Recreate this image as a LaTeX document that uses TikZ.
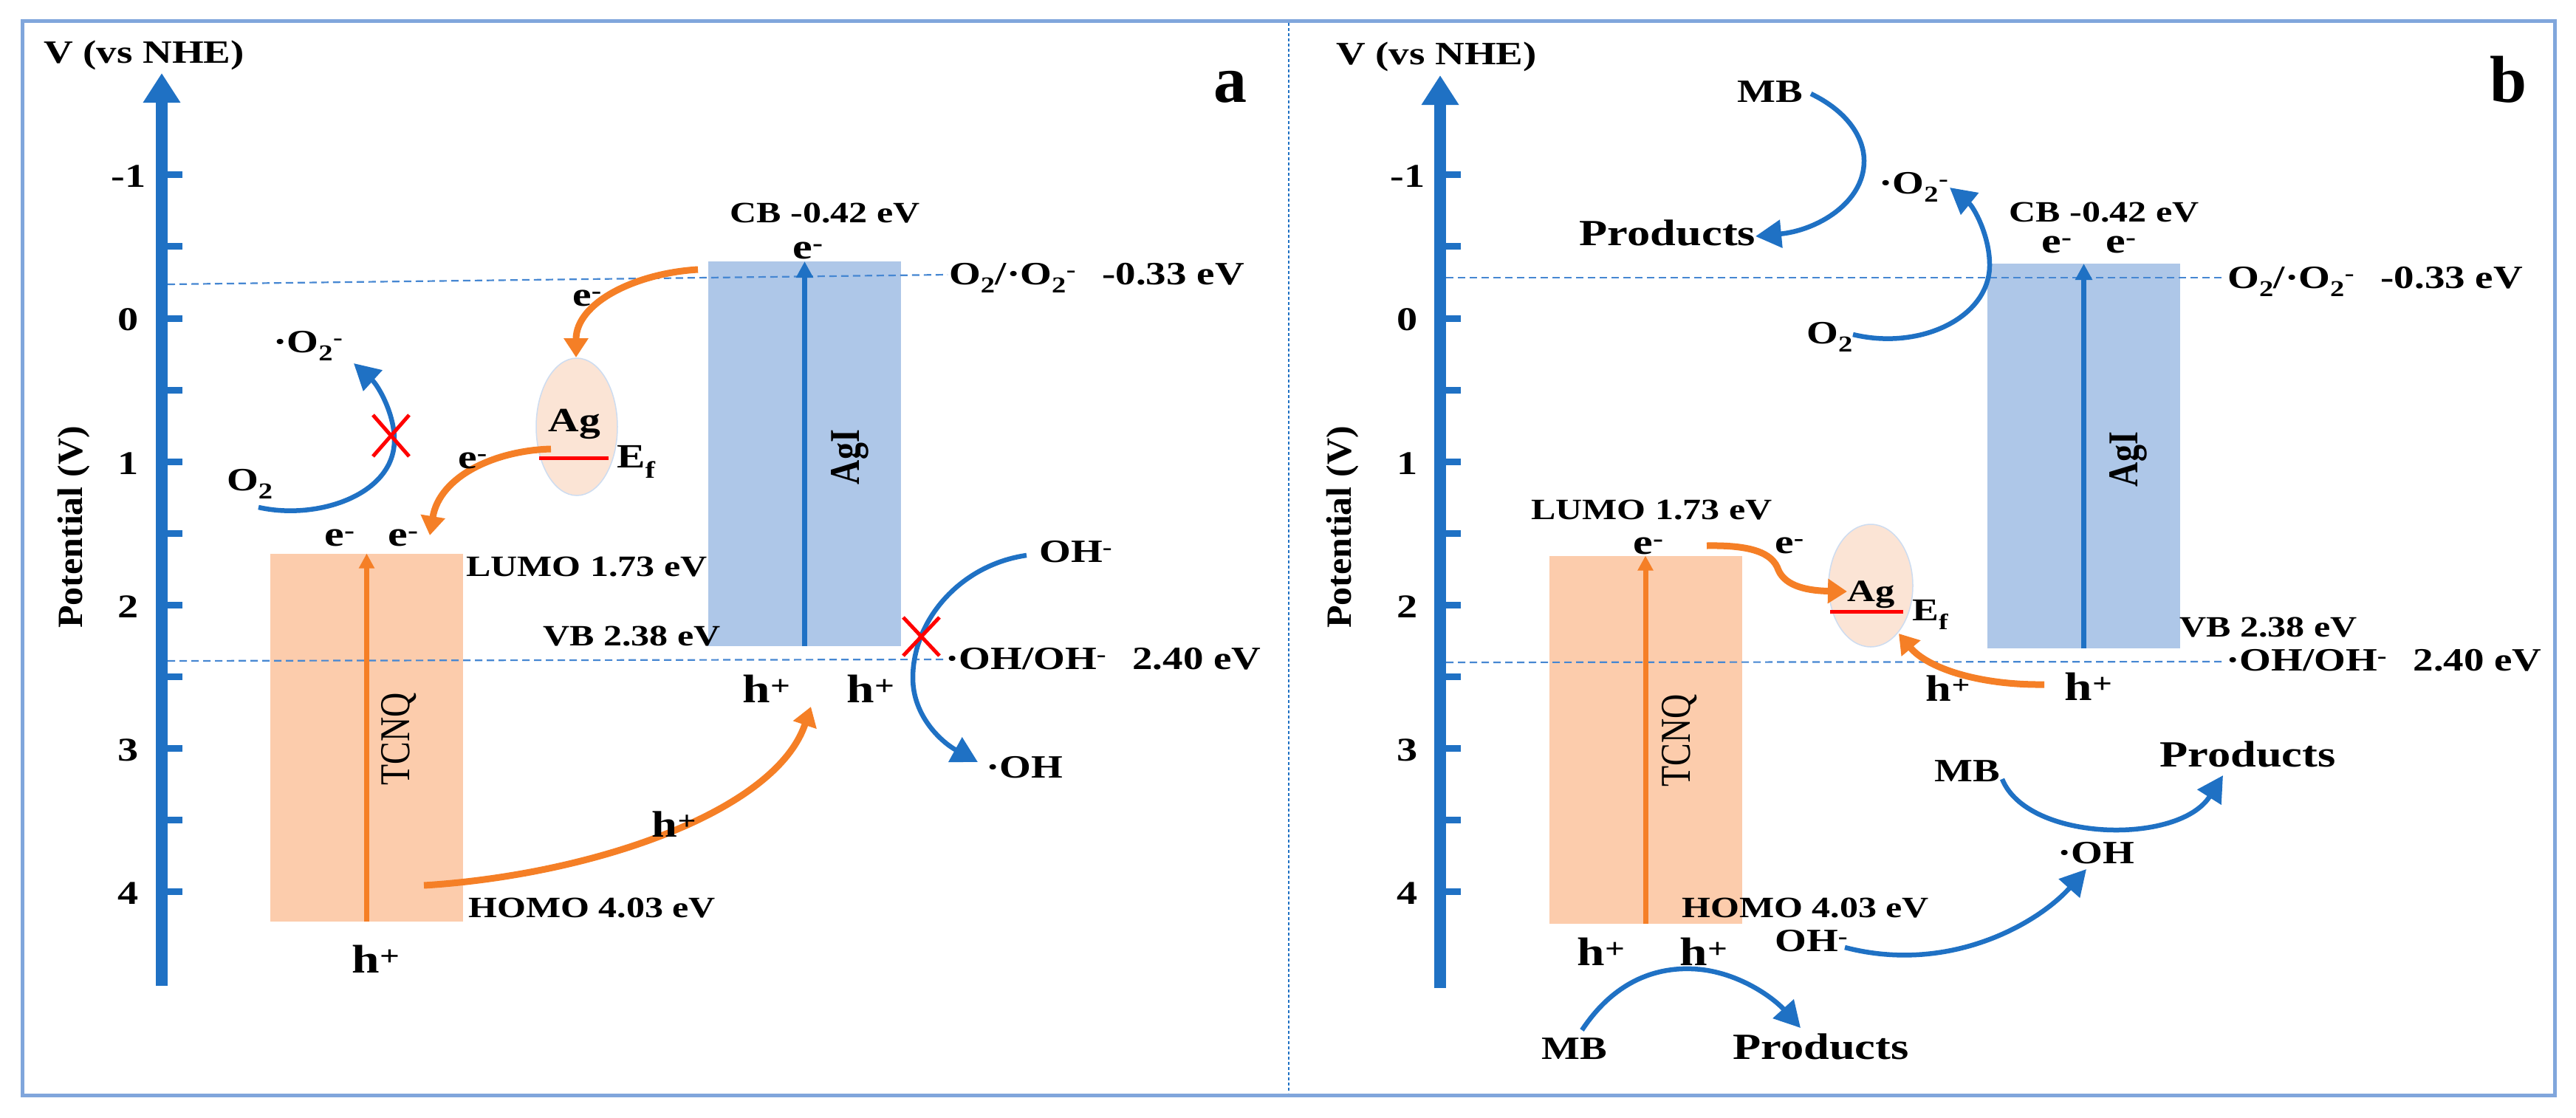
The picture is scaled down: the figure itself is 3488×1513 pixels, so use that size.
\documentclass[tikz,border=0pt]{standalone}
\usepackage{fontspec}
\usepackage{graphicx}
\setmainfont{Liberation Serif}[FakeStretch=1.25]
\newfontfamily\plainfont{Liberation Serif}
\usetikzlibrary{arrows.meta,shapes.geometric}
\definecolor{axblue}{RGB}{31,113,196}
\definecolor{dashblue}{RGB}{70,135,210}
\definecolor{orng}{RGB}{245,127,38}
\definecolor{tcnqfill}{RGB}{252,204,172}
\definecolor{agfill}{RGB}{251,228,213}
\definecolor{agedge}{RGB}{205,220,240}
\definecolor{agifill}{RGB}{174,199,232}
\definecolor{frameblue}{RGB}{128,166,220}
\tikzset{
  T/.style={inner sep=0pt, anchor=base west, font=\bfseries\fontsize{44}{50}\selectfont},
  Tc/.style={T, anchor=base},
  bandlbl/.style={inner sep=0pt, anchor=base west, font=\bfseries\fontsize{40}{46}\selectfont},
  elec/.style={inner sep=0pt, anchor=base, font=\bfseries\fontsize{48}{54}\selectfont},
  hole/.style={inner sep=0pt, anchor=base, font=\bfseries\fontsize{54}{60}\selectfont},
  prod/.style={inner sep=0pt, anchor=base west, font=\bfseries\fontsize{50}{56}\selectfont},
  ticklbl/.style={inner sep=0pt, anchor=center, font=\bfseries\fontsize{45}{50}\selectfont},
  potlbl/.style={inner sep=0pt, rotate=90, font=\bfseries\fontsize{40}{46}\selectfont},
  vlbl/.style={inner sep=0pt, rotate=90},
  panellbl/.style={inner sep=0pt, anchor=base, font=\plainfont\bfseries\fontsize{90}{96}\selectfont},
  axisline/.style={line width=16pt, axblue, -{Triangle[length=40pt,width=48pt]}},
  tickmark/.style={line width=9pt, axblue},
  lvl/.style={line width=2.2pt, dashblue, dash pattern=on 10pt off 6pt},
  tcnqbox/.style={fill=tcnqfill, draw=none, inner sep=0pt, outer sep=0pt, minimum width=261pt, minimum height=498pt},
  agibox/.style={fill=agifill, draw=none, inner sep=0pt, outer sep=0pt, minimum width=261pt, minimum height=521pt},
  agpart/.style={ellipse, fill=agfill, draw=agedge, line width=1.5pt, inner sep=0pt},
  tcnqarrow/.style={line width=7pt, orng, -{Triangle[length=20pt,width=20pt]}},
  agiarrow/.style={line width=7pt, axblue, -{Triangle[length=22pt,width=22pt]}},
  eflow/.style={line width=9pt, orng, -{Triangle[length=26pt,width=32pt]}},
  react/.style={line width=6.5pt, axblue, -{Triangle[length=35pt,width=37pt]}},
  block/.style={line width=5pt, red},
  efline/.style={line width=5pt, red}
}
\begin{document}
\begin{tikzpicture}[x=1pt,y=-1pt]
\useasboundingbox (0,0) rectangle (3488,1513);
\fill[white] (0,0) rectangle (3488,1513);
\draw[line width=5pt, frameblue] (30,28) rectangle (3459,1483);
\draw[line width=2pt, axblue, dash pattern=on 4pt off 3pt] (1745,31) -- (1745,1480);

% ---------------- panel a ----------------
\node[tcnqbox] (tcnqA) at (496.5,998.5) {};
\node[agibox] (agiA) at (1089.5,614.5) {};
\node[agpart, minimum width=110pt, minimum height=186pt] (agpA) at (781,578) {};
\draw[efline] (730,620) -- (824,620);

\coordinate (o2lA1) at (227,385); \coordinate (o2lA2) at (1283,372);
\coordinate (ohlA1) at (227,895); \coordinate (ohlA2) at (1280,893);
\draw[lvl] (o2lA1) -- (o2lA2);
\draw[lvl] (ohlA1) -- (ohlA2);

\draw[tcnqarrow] (tcnqA.south) -- (tcnqA.north);
\draw[agiarrow] (agiA.south) -- (agiA.north);

\coordinate (axA0) at (219,1335); \coordinate (axA1) at (219,99);
\draw[axisline] (axA0) -- (axA1);
\foreach \v in {-1,-0.5,0,0.5,1,1.5,2,2.5,3,3.5,4}{
  \draw[tickmark] (219,{431+194.2*\v}) -- (247,{431+194.2*\v});
}
\foreach \v in {-1,0,1,2,3,4}{
  \node[ticklbl] (tA\v) at (174,{433+194.2*\v}) {\v};
}
\node[Tc] (vnheA) at (195,85) {V (vs NHE)};
\node[potlbl] (potA) at (100,714) {\scalebox{1}[1.2]{Potential (V)}};

% electron / hole transfer arrows
\coordinate (a1s) at (945,365); \coordinate (a1t) at (780,484);
\draw[eflow] (a1s) .. controls (860,370) and (780,410) .. (a1t);
\coordinate (a2s) at (746,608); \coordinate (a2t) at (582,725);
\draw[eflow] (a2s) .. controls (670,610) and (595,645) .. (a2t);
\coordinate (a3s) at (574,1199); \coordinate (a3t) at (1098,957);
\draw[eflow] (a3s) .. controls (800,1185) and (1050,1100) .. (a3t);

% reactions
\coordinate (o2sA) at (350,687); \coordinate (o2tA) at (479,492);
\draw[react] (o2sA) .. controls (430,705) and (534,670) .. (534,596) .. controls (534,560) and (512,522) .. (o2tA);
\coordinate (ohsA) at (1390,752); \coordinate (ohtA) at (1324,1032);
\draw[react] (ohsA) .. controls (1300,765) and (1236,840) .. (1236,918) .. controls (1236,970) and (1275,1005) .. (ohtA);
\draw[block] (505,562) -- (554,618) (505,618) -- (554,562);
\draw[block] (1223,836) -- (1272,888) (1223,888) -- (1272,836);

% labels a
\node[vlbl] (tcnqLA) at (540,1001) {\scalebox{1}[1.25]{\plainfont\fontsize{46}{50}\selectfont TCNQ}};
\node[vlbl] (agiLA) at (1151,619) {\scalebox{1}[1.25]{\plainfont\bfseries\fontsize{46}{50}\selectfont AgI}};
\node[bandlbl, anchor=base] (cbA) at (1117,301) {CB -0.42 eV};
\node[elec] (ecbA) at (1094,350) {e\textsuperscript{-}};
\node[T] (o2lvlA) at (1285,385) {O\textsubscript{2}/·O\textsubscript{2}\textsuperscript{-}\hspace{0.8em}-0.33 eV};
\node[bandlbl] (lumoA) at (631,780) {LUMO 1.73 eV};
\node[elec] (e1A) at (460,739) {e\textsuperscript{-}};
\node[elec] (e2A) at (546,739) {e\textsuperscript{-}};
\node[bandlbl] (vbA) at (735,874) {VB 2.38 eV};
\node[T] (ohlvlA) at (1280,906) {·OH/OH\textsuperscript{-}\hspace{0.8em}2.40 eV};
\node[hole] (h1A) at (1038,951) {h\textsuperscript{+}};
\node[hole] (h2A) at (1179,951) {h\textsuperscript{+}};
\node[hole, font=\bfseries\fontsize{50}{56}\selectfont] (h3A) at (913,1133) {h\textsuperscript{+}};
\node[bandlbl] (homoA) at (634,1242) {HOMO 4.03 eV};
\node[hole] (h4A) at (509,1317) {h\textsuperscript{+}};
\node[T] (ohmA) at (1407,761) {OH\textsuperscript{-}};
\node[T] (ohrA) at (1335,1053) {·OH};
\node[T] (supA) at (370,477) {·O\textsubscript{2}\textsuperscript{-}};
\node[T] (o2A) at (307,664) {O\textsubscript{2}};
\node[elec, font=\bfseries\fontsize{46}{52}\selectfont] (ea1) at (795,414) {e\textsuperscript{-}};
\node[elec, font=\bfseries\fontsize{46}{52}\selectfont] (ea2) at (640,634) {e\textsuperscript{-}};
\node[Tc, font=\bfseries\fontsize{46}{52}\selectfont] (agA) at (778,584) {Ag};
\node[T, font=\bfseries\fontsize{46}{52}\selectfont] (efA) at (835,633) {E\textsubscript{f}};
\node[panellbl] (lblA) at (1666,138) {a};

% ---------------- panel b ----------------
\node[tcnqbox] (tcnqB) at (2228,1001.5) {};
\node[agibox] (agiB) at (2821.5,617.5) {};
\node[agpart, minimum width=114pt, minimum height=166pt] (agpB) at (2533,793) {};
\draw[efline] (2478,828) -- (2577,828);

\coordinate (o2lB1) at (1958,376); \coordinate (o2lB2) at (3014,376);
\coordinate (ohlB1) at (1958,897); \coordinate (ohlB2) at (3012,896);
\draw[lvl] (o2lB1) -- (o2lB2);
\draw[lvl] (ohlB1) -- (ohlB2);

\draw[tcnqarrow] (tcnqB.south) -- (tcnqB.north);
\draw[agiarrow] (agiB.south) -- (agiB.north);

\coordinate (axB0) at (1950,1338); \coordinate (axB1) at (1950,102);
\draw[axisline] (axB0) -- (axB1);
\foreach \v in {-1,-0.5,0,0.5,1,1.5,2,2.5,3,3.5,4}{
  \draw[tickmark] (1950,{431+194.2*\v}) -- (1978,{431+194.2*\v});
}
\foreach \v in {-1,0,1,2,3,4}{
  \node[ticklbl] (tB\v) at (1906,{433+194.2*\v}) {\v};
}
\node[Tc] (vnheB) at (1945,87) {V (vs NHE)};
\node[potlbl] (potB) at (1818,714) {\scalebox{1}[1.2]{Potential (V)}};

% transfer arrows b
\coordinate (b3s) at (2311,739); \coordinate (b3t) at (2501,801);
\draw[eflow] (b3s) .. controls (2370,738) and (2400,748) .. (2408,772) .. controls (2418,795) and (2450,800) .. (b3t);
\coordinate (b4s) at (2768,927); \coordinate (b4t) at (2571,858);
\draw[eflow] (b4s) .. controls (2680,928) and (2610,905) .. (b4t);

% reactions b
\coordinate (b1s) at (2452,127); \coordinate (b1t) at (2377,320);
\draw[react] (b1s) .. controls (2500,150) and (2524,185) .. (2524,218) .. controls (2524,275) and (2460,312) .. (b1t);
\coordinate (b2s) at (2509,453); \coordinate (b2t) at (2640,254);
\draw[react] (b2s) .. controls (2600,475) and (2694,430) .. (2694,359) .. controls (2694,318) and (2672,280) .. (b2t);
\coordinate (b5s) at (2498,1283); \coordinate (b5t) at (2825,1177);
\draw[react] (b5s) .. controls (2640,1320) and (2760,1250) .. (b5t);
\coordinate (b6s) at (2711,1055); \coordinate (b6t) at (3010,1050);
\draw[react] (b6s) .. controls (2745,1140) and (2950,1145) .. (b6t);
\coordinate (b7s) at (2142,1395); \coordinate (b7t) at (2438,1392);
\draw[react] (b7s) .. controls (2185,1330) and (2240,1310) .. (2291,1312) .. controls (2350,1314) and (2400,1350) .. (b7t);

% labels b
\node[vlbl] (tcnqLB) at (2274,1003) {\scalebox{1}[1.25]{\plainfont\fontsize{46}{50}\selectfont TCNQ}};
\node[vlbl] (agiLB) at (2882,622) {\scalebox{1}[1.25]{\plainfont\bfseries\fontsize{46}{50}\selectfont AgI}};
\node[Tc] (mbT) at (2397,138) {MB};
\node[prod, anchor=base] (prT) at (2258,332) {Products};
\node[T] (supB) at (2544,262) {·O\textsubscript{2}\textsuperscript{-}};
\node[T] (o2B) at (2446,465) {O\textsubscript{2}};
\node[bandlbl, anchor=base] (cbB) at (2849,300) {CB -0.42 eV};
\node[elec] (ecb1B) at (2785,342) {e\textsuperscript{-}};
\node[elec] (ecb2B) at (2872,342) {e\textsuperscript{-}};
\node[T] (o2lvlB) at (3016,390) {O\textsubscript{2}/·O\textsubscript{2}\textsuperscript{-}\hspace{0.8em}-0.33 eV};
\node[bandlbl] (lumoB) at (2073,703) {LUMO 1.73 eV};
\node[elec] (eB) at (2232,750) {e\textsuperscript{-}};
\node[elec, font=\bfseries\fontsize{46}{52}\selectfont] (eaB) at (2423,749) {e\textsuperscript{-}};
\node[Tc, font=\bfseries\fontsize{42}{48}\selectfont] (agB) at (2534,814) {Ag};
\node[T, font=\bfseries\fontsize{43}{48}\selectfont] (efB) at (2589,840) {E\textsubscript{f}};
\node[bandlbl] (vbB) at (2951,862) {VB 2.38 eV};
\node[T] (ohlvlB) at (3014,908) {·OH/OH\textsuperscript{-}\hspace{0.8em}2.40 eV};
\node[hole, font=\bfseries\fontsize{50}{56}\selectfont] (h1B) at (2638,949) {h\textsuperscript{+}};
\node[hole] (h2B) at (2828,948) {h\textsuperscript{+}};
\node[T] (mbM) at (2619,1058) {MB};
\node[prod] (prM) at (2924,1038) {Products};
\node[T] (ohrB) at (2786,1169) {·OH};
\node[bandlbl] (homoB) at (2277,1242) {HOMO 4.03 eV};
\node[T] (ohmB) at (2403,1288) {OH\textsuperscript{-}};
\node[hole] (h3B) at (2168,1307) {h\textsuperscript{+}};
\node[hole] (h4B) at (2307,1307) {h\textsuperscript{+}};
\node[T] (mbB) at (2087,1434) {MB};
\node[prod] (prB) at (2346,1434) {Products};
\node[panellbl] (lblB) at (3396,138) {b};
\end{tikzpicture}
\end{document}
